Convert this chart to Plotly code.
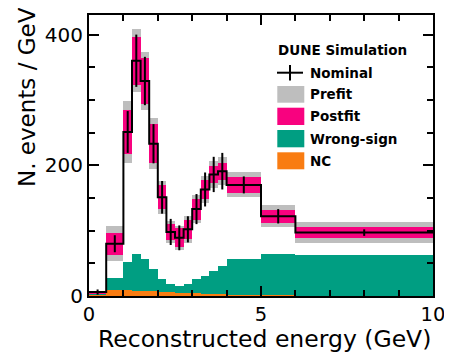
import plotly.graph_objects as go

# ---------------- data ----------------
bin_edges = [0, 0.5, 1.0, 1.25, 1.5, 1.75, 2.0, 2.25, 2.5, 2.75, 3.0,
             3.25, 3.5, 3.75, 4.0, 5.0, 6.0, 10.0]
nominal = [6, 80, 251, 360, 329, 233, 151, 98, 89, 102, 133, 163, 186, 191, 170, 122, 97]
nominal_err = [4, 13, 32, 40, 37, 30, 25, 20, 19, 20, 23, 26, 27, 28, 13, 11, 5]
prefit_err = [2, 27, 48, 48, 44, 39, 25, 17, 18, 21, 22, 21, 20, 21, 19, 16.5, 15.5]
postfit_err = [1.5, 17, 34, 37, 35, 30, 18.5, 12.5, 14.5, 15, 16, 15, 13.5, 13, 12.5, 10, 8.5]
nc = [2.5, 9, 8.5, 8, 7.5, 7, 6, 5.5, 5, 4.5, 4, 3.5, 3, 3, 2, 1, 0.5]
wrong_sign = [2.5, 19, 43, 57, 49.5, 35, 20.7, 13.5, 11, 14.5, 22, 27.5, 35, 42.5, 55, 64, 61.5]

x_ticks = [0, 5, 10]
y_ticks = [0, 200, 400]
legend_labels = ["Nominal", "Prefit", "Postfit", "Wrong-sign", "NC"]
legend_header = "DUNE Simulation"

# ---------------- styles ----------------
C_GREY = "#BEBEBE"
C_PINK = "#F8027F"
C_TEAL = "#009E82"
C_ORANGE = "#F97C12"
FONT = "DejaVu Sans"

centers = [(a + b) / 2 for a, b in zip(bin_edges[:-1], bin_edges[1:])]
widths = [b - a for a, b in zip(bin_edges[:-1], bin_edges[1:])]

fig = go.Figure()

# stacked backgrounds: NC at bottom, wrong-sign on top
fig.add_trace(go.Bar(x=centers, y=nc, width=widths, base=[0] * len(nc),
                     marker=dict(color=C_ORANGE, line=dict(width=0)),
                     name="NC", showlegend=False))
fig.add_trace(go.Bar(x=centers, y=wrong_sign, width=widths, base=nc,
                     marker=dict(color=C_TEAL, line=dict(width=0)),
                     name="Wrong-sign", showlegend=False))

# prefit and postfit bands
fig.add_trace(go.Bar(x=centers, y=[2 * e for e in prefit_err], width=widths,
                     base=[n - e for n, e in zip(nominal, prefit_err)],
                     marker=dict(color=C_GREY, line=dict(width=0)),
                     name="Prefit", showlegend=False))
fig.add_trace(go.Bar(x=centers, y=[2 * e for e in postfit_err], width=widths,
                     base=[n - e for n, e in zip(nominal, postfit_err)],
                     marker=dict(color=C_PINK, line=dict(width=0)),
                     name="Postfit", showlegend=False))

# nominal histogram outline
fig.add_trace(go.Scatter(x=bin_edges, y=nominal + [nominal[-1]], mode="lines",
                         line=dict(color="black", width=2, shape="hv"),
                         name="Nominal", showlegend=False, hoverinfo="skip"))
# nominal error bars (vertical)
ex, ey = [], []
for c, n, e in zip(centers, nominal, nominal_err):
    ex += [c, c, None]
    ey += [n - e, n + e, None]
fig.add_trace(go.Scatter(x=ex, y=ey, mode="lines",
                         line=dict(color="black", width=2),
                         showlegend=False, hoverinfo="skip"))

# ---------------- layout ----------------
OFF = 8                      # page body margin of the browser
W, H = 444, 345
L, T = 89 - OFF, 15 - OFF
PW, PH = 344, 281
R, B = W - L - PW, H - T - PH


def px(x):
    return (x - OFF - L) / PW


def py(y):
    return (H - B - (y - OFF)) / PH


shapes = []
annotations = []

# custom legend
annotations.append(dict(x=px(276), y=py(50), xref="paper", yref="paper",
                        text=legend_header, showarrow=False, xanchor="left",
                        yanchor="middle",
                        font=dict(family=FONT, size=13.5, color="black", weight="bold")))
# nominal cross
shapes.append(dict(type="line", xref="paper", yref="paper",
                   x0=px(277), x1=px(303), y0=py(72.7), y1=py(72.7),
                   line=dict(color="black", width=2)))
shapes.append(dict(type="line", xref="paper", yref="paper",
                   x0=px(290), x1=px(290), y0=py(65), y1=py(80.5),
                   line=dict(color="black", width=2)))
boxes = [(86, 102.7, C_GREY), (107.7, 125, C_PINK), (130, 147.3, C_TEAL),
         (152.3, 169.3, C_ORANGE)]
for y0, y1, col in boxes:
    shapes.append(dict(type="rect", xref="paper", yref="paper",
                       x0=px(277.3), x1=px(304.3), y0=py(y1), y1=py(y0),
                       fillcolor=col, line=dict(width=0)))
text_y = [72.7, 94.3, 116.3, 138.7, 160.8]
for lab, ty in zip(legend_labels, text_y):
    annotations.append(dict(x=px(308), y=py(ty), xref="paper", yref="paper",
                            text=lab, showarrow=False, xanchor="left",
                            yanchor="middle",
                            font=dict(family=FONT, size=13.5, color="black",
                                      weight="bold")))

# axis titles
annotations.append(dict(x=px(264), y=py(338.5), xref="paper", yref="paper",
                        text="Reconstructed energy (GeV)", showarrow=False,
                        xanchor="center", yanchor="middle",
                        font=dict(family=FONT, size=23.5, color="black")))
annotations.append(dict(x=px(27), y=py(97), xref="paper", yref="paper",
                        text="N. events / GeV", showarrow=False, textangle=-90,
                        xanchor="center", yanchor="middle",
                        font=dict(family=FONT, size=23, color="black")))

fig.update_layout(
    width=W, height=H,
    margin=dict(l=L, r=R, t=T, b=B, pad=0, autoexpand=False),
    paper_bgcolor="white", plot_bgcolor="white",
    barmode="overlay", bargap=0,
    showlegend=False,
    shapes=shapes, annotations=annotations,
    font=dict(family=FONT, color="black"),
)
fig.update_xaxes(range=[0, 10], tickvals=x_ticks, ticktext=[str(v) for v in x_ticks],
                 automargin=False, ticklabelstandoff=0,
                 ticks="inside", ticklen=10, tickwidth=1.5, tickcolor="black",
                 minor=dict(dtick=1, ticks="inside", ticklen=6, tickwidth=1.5,
                            tickcolor="black", showgrid=False),
                 showline=True, linewidth=2, linecolor="black", mirror="ticks",
                 showgrid=False, zeroline=False,
                 tickfont=dict(family=FONT, size=19.5, color="black"))
fig.update_yaxes(range=[0, 430], tickvals=y_ticks, ticktext=[str(v) for v in y_ticks],
                 automargin=False,
                 ticks="inside", ticklen=10, tickwidth=1.5, tickcolor="black",
                 minor=dict(dtick=50, ticks="inside", ticklen=6, tickwidth=1.5,
                            tickcolor="black", showgrid=False),
                 showline=True, linewidth=2, linecolor="black", mirror="ticks",
                 showgrid=False, zeroline=False,
                 tickfont=dict(family=FONT, size=20, color="black"))

fig.write_html("out.html")
